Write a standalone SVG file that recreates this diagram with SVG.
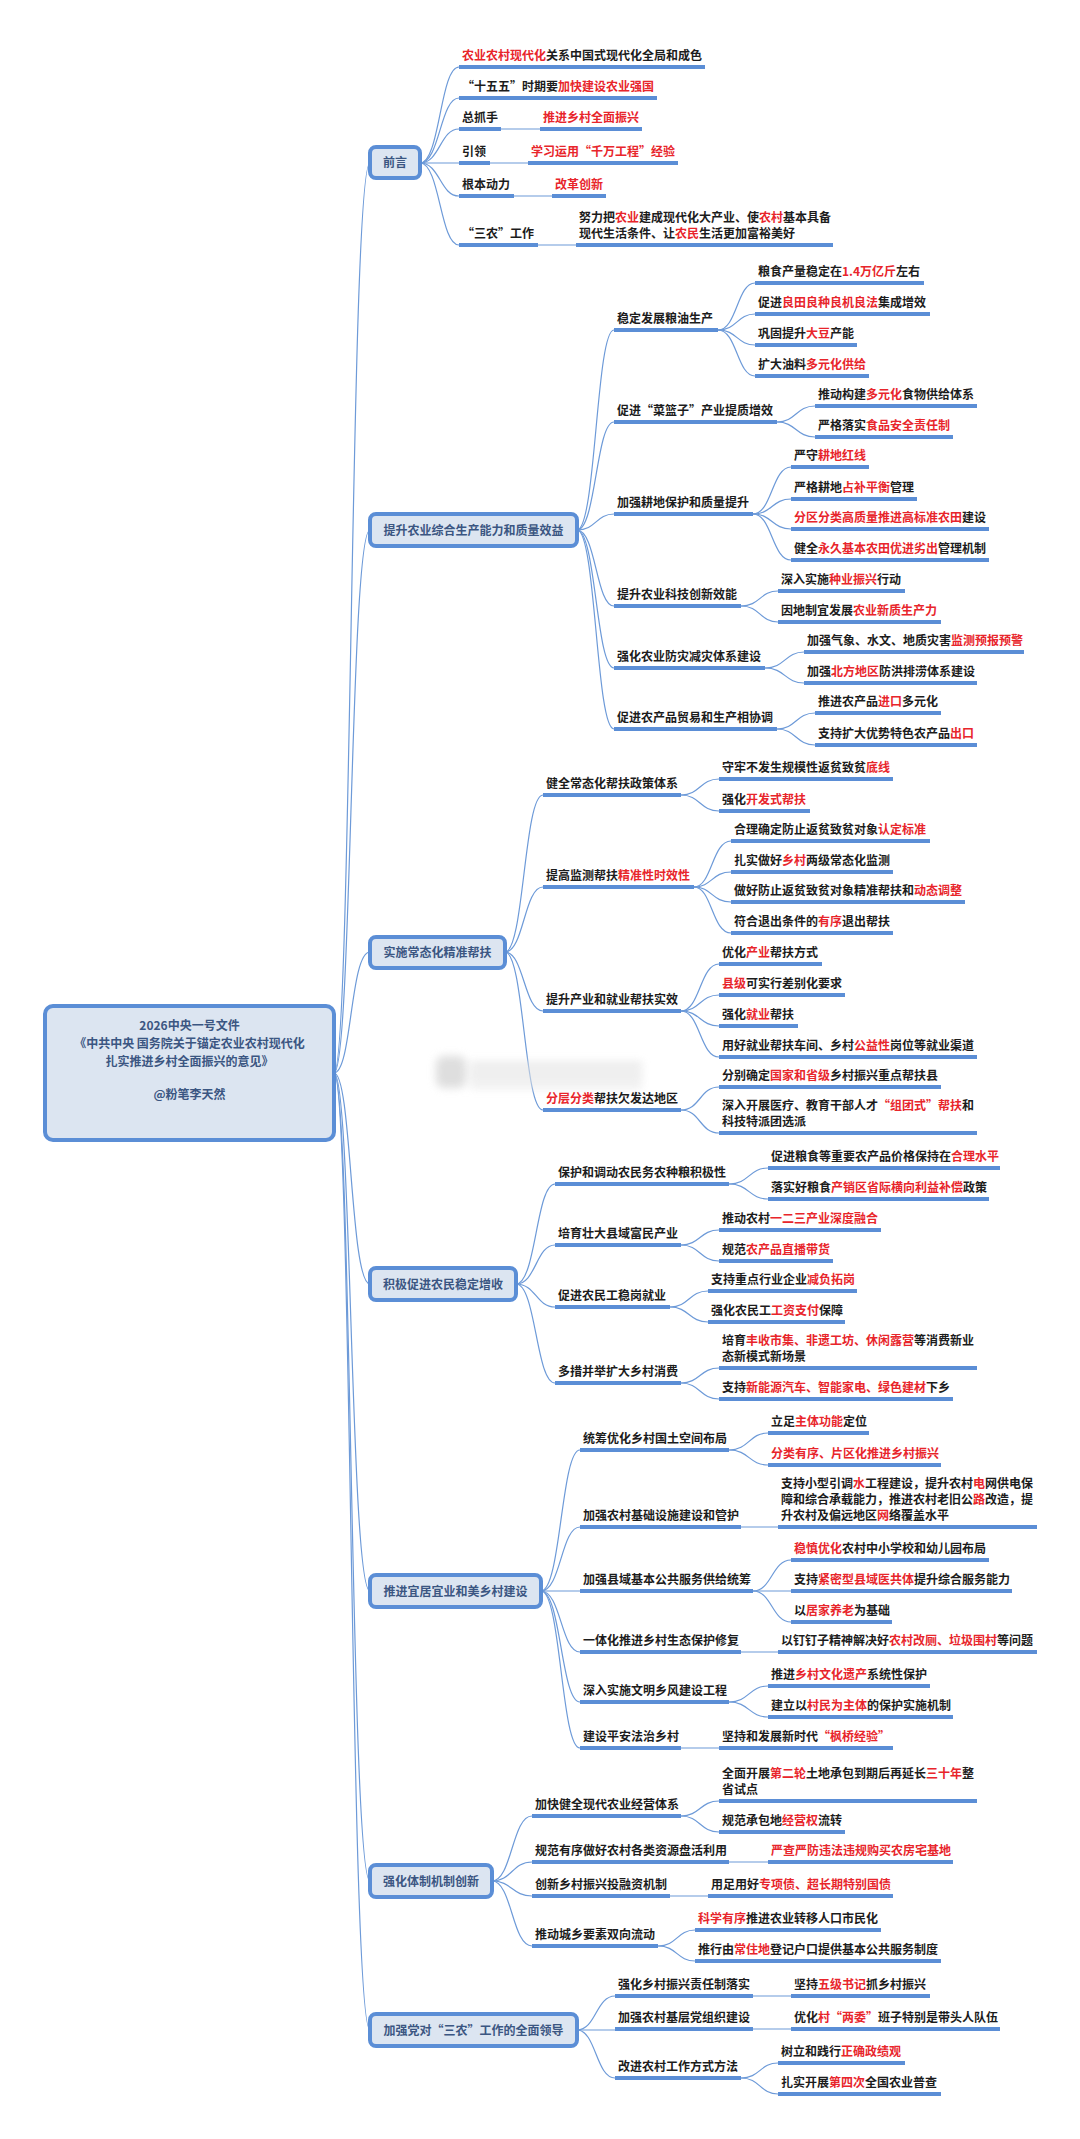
<svg xmlns="http://www.w3.org/2000/svg" width="1080" height="2139" viewBox="0 0 1080 2139">
<defs>
<style>
.t{font-family:"Noto Sans CJK SC","Microsoft YaHei",sans-serif;font-size:12px;font-weight:700;fill:#1c1c1c}
.r{fill:#e8252b}
.ul{stroke:#5b8ed6;stroke-width:4}
.c{fill:none;stroke:#6d9ad8;stroke-width:1.2}
.box{fill:#dce5f1;stroke:#5b8ed6;stroke-width:4}
.bt{font-family:"Noto Sans CJK SC","Microsoft YaHei",sans-serif;font-size:12px;font-weight:700;fill:#3b5682;text-anchor:middle}
</style>
<filter id="blur" x="-20%" y="-50%" width="140%" height="200%"><feGaussianBlur stdDeviation="4"/></filter>
</defs>
<rect width="1080" height="2139" fill="#ffffff"/>

<g id="connectors">
<path class="c" d="M334 1073 C352 1073 350 163 370 163"/>
<path class="c" d="M334 1073 C352 1073 350 530 370 530"/>
<path class="c" d="M334 1073 C352 1073 350 952 370 952"/>
<path class="c" d="M334 1073 C352 1073 350 1284 370 1284"/>
<path class="c" d="M334 1073 C352 1073 350 1591 370 1591"/>
<path class="c" d="M334 1073 C352 1073 350 1881 370 1881"/>
<path class="c" d="M334 1073 C352 1073 350 2030 370 2030"/>
<!-- 前言 -->
<path class="c" d="M420 163 C440 163 440 67 459 67"/>
<path class="c" d="M420 163 C440 163 440 98 459 98"/>
<path class="c" d="M420 163 C440 163 440 129 459 129"/>
<path class="c" d="M420 163 L459 163"/>
<path class="c" d="M420 163 C440 163 440 196 459 196"/>
<path class="c" d="M420 163 C440 163 440 245 459 245"/>
<path class="c" d="M501 129 L540 129"/>
<path class="c" d="M490 163 L528 163"/>
<path class="c" d="M514 196 L552 196"/>
<path class="c" d="M538 245 L576 245"/>
<!-- 提升 -->
<path class="c" d="M577 530 C596 530 596 330 614 330"/>
<path class="c" d="M577 530 C596 530 596 422 614 422"/>
<path class="c" d="M577 530 C596 530 596 514 614 514"/>
<path class="c" d="M577 530 C596 530 596 606 614 606"/>
<path class="c" d="M577 530 C596 530 596 668 614 668"/>
<path class="c" d="M577 530 C596 530 596 729 614 729"/>
<path class="c" d="M718 330 C737 330 737 283 755 283"/>
<path class="c" d="M718 330 C737 330 737 314 755 314"/>
<path class="c" d="M718 330 C737 330 737 345 755 345"/>
<path class="c" d="M718 330 C737 330 737 376 755 376"/>
<path class="c" d="M777 422 C796 422 796 406 815 406"/>
<path class="c" d="M777 422 C796 422 796 437 815 437"/>
<path class="c" d="M753 514 C772 514 772 467 791 467"/>
<path class="c" d="M753 514 C772 514 772 499 791 499"/>
<path class="c" d="M753 514 C772 514 772 529 791 529"/>
<path class="c" d="M753 514 C772 514 772 560 791 560"/>
<path class="c" d="M741 606 C760 606 760 591 778 591"/>
<path class="c" d="M741 606 C760 606 760 622 778 622"/>
<path class="c" d="M765 668 C785 668 785 652 804 652"/>
<path class="c" d="M765 668 C785 668 785 683 804 683"/>
<path class="c" d="M777 729 C796 729 796 713 815 713"/>
<path class="c" d="M777 729 C796 729 796 745 815 745"/>
<!-- 实施 -->
<path class="c" d="M505 952 C524 952 524 795 543 795"/>
<path class="c" d="M505 952 C524 952 524 887 543 887"/>
<path class="c" d="M505 952 C524 952 524 1011 543 1011"/>
<path class="c" d="M505 952 C524 952 524 1110 543 1110"/>
<path class="c" d="M681 795 C700 795 700 779 719 779"/>
<path class="c" d="M681 795 C700 795 700 811 719 811"/>
<path class="c" d="M694 887 C712 887 712 841 731 841"/>
<path class="c" d="M694 887 C712 887 712 872 731 872"/>
<path class="c" d="M694 887 C712 887 712 902 731 902"/>
<path class="c" d="M694 887 C712 887 712 933 731 933"/>
<path class="c" d="M681 1011 C700 1011 700 964 719 964"/>
<path class="c" d="M681 1011 C700 1011 700 995 719 995"/>
<path class="c" d="M681 1011 C700 1011 700 1026 719 1026"/>
<path class="c" d="M681 1011 C700 1011 700 1057 719 1057"/>
<path class="c" d="M681 1110 C700 1110 700 1087 719 1087"/>
<path class="c" d="M681 1110 C700 1110 700 1133 719 1133"/>
<!-- 积极 -->
<path class="c" d="M516 1284 C536 1284 536 1184 555 1184"/>
<path class="c" d="M516 1284 C536 1284 536 1245 555 1245"/>
<path class="c" d="M516 1284 C536 1284 536 1307 555 1307"/>
<path class="c" d="M516 1284 C536 1284 536 1383 555 1383"/>
<path class="c" d="M729 1184 C749 1184 749 1168 768 1168"/>
<path class="c" d="M729 1184 C749 1184 749 1199 768 1199"/>
<path class="c" d="M681 1245 C700 1245 700 1230 719 1230"/>
<path class="c" d="M681 1245 C700 1245 700 1261 719 1261"/>
<path class="c" d="M670 1307 C689 1307 689 1291 708 1291"/>
<path class="c" d="M670 1307 C689 1307 689 1322 708 1322"/>
<path class="c" d="M681 1383 C700 1383 700 1368 719 1368"/>
<path class="c" d="M681 1383 C700 1383 700 1399 719 1399"/>
<!-- 推进 -->
<path class="c" d="M541 1591 C561 1591 561 1450 580 1450"/>
<path class="c" d="M541 1591 C561 1591 561 1527 580 1527"/>
<path class="c" d="M541 1591 L580 1591"/>
<path class="c" d="M541 1591 C561 1591 561 1652 580 1652"/>
<path class="c" d="M541 1591 C561 1591 561 1702 580 1702"/>
<path class="c" d="M541 1591 C561 1591 561 1748 580 1748"/>
<path class="c" d="M729 1450 C749 1450 749 1433 768 1433"/>
<path class="c" d="M729 1450 C749 1450 749 1465 768 1465"/>
<path class="c" d="M741 1527 L778 1527"/>
<path class="c" d="M753 1591 C772 1591 772 1560 791 1560"/>
<path class="c" d="M753 1591 L791 1591"/>
<path class="c" d="M753 1591 C772 1591 772 1622 791 1622"/>
<path class="c" d="M741 1652 L778 1652"/>
<path class="c" d="M729 1702 C749 1702 749 1686 768 1686"/>
<path class="c" d="M729 1702 C749 1702 749 1717 768 1717"/>
<path class="c" d="M681 1748 L719 1748"/>
<!-- 强化 -->
<path class="c" d="M492 1881 C512 1881 512 1816 532 1816"/>
<path class="c" d="M492 1881 C512 1881 512 1862 532 1862"/>
<path class="c" d="M492 1881 C512 1881 512 1896 532 1896"/>
<path class="c" d="M492 1881 C512 1881 512 1946 532 1946"/>
<path class="c" d="M681 1816 C700 1816 700 1801 719 1801"/>
<path class="c" d="M681 1816 C700 1816 700 1832 719 1832"/>
<path class="c" d="M729 1862 L768 1862"/>
<path class="c" d="M670 1896 L708 1896"/>
<path class="c" d="M658 1946 C677 1946 677 1930 695 1930"/>
<path class="c" d="M658 1946 C677 1946 677 1961 695 1961"/>
<!-- 加强党 -->
<path class="c" d="M577 2030 C596 2030 596 1996 615 1996"/>
<path class="c" d="M577 2030 L615 2030"/>
<path class="c" d="M577 2030 C596 2030 596 2078 615 2078"/>
<path class="c" d="M753 1996 L791 1996"/>
<path class="c" d="M753 2029 L791 2029"/>
<path class="c" d="M741 2078 C760 2078 760 2063 778 2063"/>
<path class="c" d="M741 2078 C760 2078 760 2094 778 2094"/>
</g>

<g id="watermark" filter="url(#blur)" opacity="0.8">
<rect x="436" y="1056" width="30" height="32" rx="8" fill="#d6d6d6"/>
<rect x="470" y="1062" width="172" height="7" fill="#e2e2e2"/>
<rect x="470" y="1072" width="172" height="7" fill="#e2e2e2"/>
<rect x="470" y="1082" width="172" height="6" fill="#e6e6e6"/>
</g>

<g id="root">
<rect class="box" x="45" y="1006" width="289" height="134" rx="8"/>
<text class="bt" x="189.5" y="1029.5">2026中央一号文件</text>
<text class="bt" x="189.5" y="1047.5">《中共中央 国务院关于锚定农业农村现代化</text>
<text class="bt" x="189.5" y="1065.5">扎实推进乡村全面振兴的意见》</text>
<text class="bt" x="189.5" y="1098.5">@粉笔李天然</text>
</g>

<!-- 前言 -->
<g id="n-qianyan"><rect class="box" x="370" y="147" width="50" height="31" rx="6"/><text class="bt" x="395" y="167">前言</text></g>
<g id="n-p1"><line class="ul" x1="459" y1="67" x2="705" y2="67"/><text class="t" x="462" y="60"><tspan class="r">农业农村现代化</tspan>关系中国式现代化全局和成色</text></g>
<g id="n-p2"><line class="ul" x1="459" y1="98" x2="657" y2="98"/><text class="t" x="462" y="91">“十五五”时期要<tspan class="r">加快建设农业强国</tspan></text></g>
<g id="n-p3"><line class="ul" x1="459" y1="129" x2="501" y2="129"/><text class="t" x="462" y="122">总抓手</text></g>
<g id="n-p3a"><line class="ul" x1="540" y1="129" x2="642" y2="129"/><text class="t" x="543" y="122"><tspan class="r">推进乡村全面振兴</tspan></text></g>
<g id="n-p4"><line class="ul" x1="459" y1="163" x2="490" y2="163"/><text class="t" x="462" y="156">引领</text></g>
<g id="n-p4a"><line class="ul" x1="528" y1="163" x2="678" y2="163"/><text class="t" x="531" y="156"><tspan class="r">学习运用“千万工程”经验</tspan></text></g>
<g id="n-p5"><line class="ul" x1="459" y1="196" x2="514" y2="196"/><text class="t" x="462" y="189">根本动力</text></g>
<g id="n-p5a"><line class="ul" x1="552" y1="196" x2="606" y2="196"/><text class="t" x="555" y="189"><tspan class="r">改革创新</tspan></text></g>
<g id="n-p6"><line class="ul" x1="459" y1="245" x2="538" y2="245"/><text class="t" x="462" y="238">“三农”工作</text></g>
<g id="n-p6a"><line class="ul" x1="576" y1="245" x2="833" y2="245"/><text class="t" x="579" y="222">努力把<tspan class="r">农业</tspan>建成现代化大产业、使<tspan class="r">农村</tspan>基本具备</text><text class="t" x="579" y="238">现代生活条件、让<tspan class="r">农民</tspan>生活更加富裕美好</text></g>

<!-- 提升农业综合生产能力和质量效益 -->
<g id="n-a"><rect class="box" x="370" y="514" width="207" height="32" rx="6"/><text class="bt" x="473.5" y="534.5">提升农业综合生产能力和质量效益</text></g>
<g id="n-a1"><line class="ul" x1="614" y1="330" x2="718" y2="330"/><text class="t" x="617" y="323">稳定发展粮油生产</text></g>
<g id="n-a1a"><line class="ul" x1="755" y1="283" x2="924" y2="283"/><text class="t" x="758" y="276">粮食产量稳定在<tspan class="r">1.4万亿斤</tspan>左右</text></g>
<g id="n-a1b"><line class="ul" x1="755" y1="314" x2="930" y2="314"/><text class="t" x="758" y="307">促进<tspan class="r">良田良种良机良法</tspan>集成增效</text></g>
<g id="n-a1c"><line class="ul" x1="755" y1="345" x2="857" y2="345"/><text class="t" x="758" y="338">巩固提升<tspan class="r">大豆</tspan>产能</text></g>
<g id="n-a1d"><line class="ul" x1="755" y1="376" x2="869" y2="376"/><text class="t" x="758" y="369">扩大油料<tspan class="r">多元化供给</tspan></text></g>
<g id="n-a2"><line class="ul" x1="614" y1="422" x2="777" y2="422"/><text class="t" x="617" y="415">促进“菜篮子”产业提质增效</text></g>
<g id="n-a2a"><line class="ul" x1="815" y1="406" x2="977" y2="406"/><text class="t" x="818" y="399">推动构建<tspan class="r">多元化</tspan>食物供给体系</text></g>
<g id="n-a2b"><line class="ul" x1="815" y1="437" x2="953" y2="437"/><text class="t" x="818" y="430">严格落实<tspan class="r">食品安全责任制</tspan></text></g>
<g id="n-a3"><line class="ul" x1="614" y1="514" x2="753" y2="514"/><text class="t" x="617" y="507">加强耕地保护和质量提升</text></g>
<g id="n-a3a"><line class="ul" x1="791" y1="467" x2="869" y2="467"/><text class="t" x="794" y="460">严守<tspan class="r">耕地红线</tspan></text></g>
<g id="n-a3b"><line class="ul" x1="791" y1="499" x2="917" y2="499"/><text class="t" x="794" y="492">严格耕地<tspan class="r">占补平衡</tspan>管理</text></g>
<g id="n-a3c"><line class="ul" x1="791" y1="529" x2="989" y2="529"/><text class="t" x="794" y="522"><tspan class="r">分区分类高质量推进高标准农田</tspan>建设</text></g>
<g id="n-a3d"><line class="ul" x1="791" y1="560" x2="989" y2="560"/><text class="t" x="794" y="553">健全<tspan class="r">永久基本农田优进劣出</tspan>管理机制</text></g>
<g id="n-a4"><line class="ul" x1="614" y1="606" x2="741" y2="606"/><text class="t" x="617" y="599">提升农业科技创新效能</text></g>
<g id="n-a4a"><line class="ul" x1="778" y1="591" x2="905" y2="591"/><text class="t" x="781" y="584">深入实施<tspan class="r">种业振兴</tspan>行动</text></g>
<g id="n-a4b"><line class="ul" x1="778" y1="622" x2="941" y2="622"/><text class="t" x="781" y="615">因地制宜发展<tspan class="r">农业新质生产力</tspan></text></g>
<g id="n-a5"><line class="ul" x1="614" y1="668" x2="765" y2="668"/><text class="t" x="617" y="661">强化农业防灾减灾体系建设</text></g>
<g id="n-a5a"><line class="ul" x1="804" y1="652" x2="1024" y2="652"/><text class="t" x="807" y="645">加强气象、水文、地质灾害<tspan class="r">监测预报预警</tspan></text></g>
<g id="n-a5b"><line class="ul" x1="804" y1="683" x2="977" y2="683"/><text class="t" x="807" y="676">加强<tspan class="r">北方地区</tspan>防洪排涝体系建设</text></g>
<g id="n-a6"><line class="ul" x1="614" y1="729" x2="777" y2="729"/><text class="t" x="617" y="722">促进农产品贸易和生产相协调</text></g>
<g id="n-a6a"><line class="ul" x1="815" y1="713" x2="941" y2="713"/><text class="t" x="818" y="706">推进农产品<tspan class="r">进口</tspan>多元化</text></g>
<g id="n-a6b"><line class="ul" x1="815" y1="745" x2="977" y2="745"/><text class="t" x="818" y="738">支持扩大优势特色农产品<tspan class="r">出口</tspan></text></g>

<!-- 实施常态化精准帮扶 -->
<g id="n-b"><rect class="box" x="370" y="937" width="135" height="31" rx="6"/><text class="bt" x="437.5" y="957">实施常态化精准帮扶</text></g>
<g id="n-b1"><line class="ul" x1="543" y1="795" x2="681" y2="795"/><text class="t" x="546" y="788">健全常态化帮扶政策体系</text></g>
<g id="n-b1a"><line class="ul" x1="719" y1="779" x2="893" y2="779"/><text class="t" x="722" y="772">守牢不发生规模性返贫致贫<tspan class="r">底线</tspan></text></g>
<g id="n-b1b"><line class="ul" x1="719" y1="811" x2="810" y2="811"/><text class="t" x="722" y="804">强化<tspan class="r">开发式帮扶</tspan></text></g>
<g id="n-b2"><line class="ul" x1="543" y1="887" x2="694" y2="887"/><text class="t" x="546" y="880">提高监测帮扶<tspan class="r">精准性时效性</tspan></text></g>
<g id="n-b2a"><line class="ul" x1="731" y1="841" x2="930" y2="841"/><text class="t" x="734" y="834">合理确定防止返贫致贫对象<tspan class="r">认定标准</tspan></text></g>
<g id="n-b2b"><line class="ul" x1="731" y1="872" x2="893" y2="872"/><text class="t" x="734" y="865">扎实做好<tspan class="r">乡村</tspan>两级常态化监测</text></g>
<g id="n-b2c"><line class="ul" x1="731" y1="902" x2="965" y2="902"/><text class="t" x="734" y="895">做好防止返贫致贫对象精准帮扶和<tspan class="r">动态调整</tspan></text></g>
<g id="n-b2d"><line class="ul" x1="731" y1="933" x2="893" y2="933"/><text class="t" x="734" y="926">符合退出条件的<tspan class="r">有序</tspan>退出帮扶</text></g>
<g id="n-b3"><line class="ul" x1="543" y1="1011" x2="681" y2="1011"/><text class="t" x="546" y="1004">提升产业和就业帮扶实效</text></g>
<g id="n-b3a"><line class="ul" x1="719" y1="964" x2="822" y2="964"/><text class="t" x="722" y="957">优化<tspan class="r">产业</tspan>帮扶方式</text></g>
<g id="n-b3b"><line class="ul" x1="719" y1="995" x2="845" y2="995"/><text class="t" x="722" y="988"><tspan class="r">县级</tspan>可实行差别化要求</text></g>
<g id="n-b3c"><line class="ul" x1="719" y1="1026" x2="798" y2="1026"/><text class="t" x="722" y="1019">强化<tspan class="r">就业</tspan>帮扶</text></g>
<g id="n-b3d"><line class="ul" x1="719" y1="1057" x2="977" y2="1057"/><text class="t" x="722" y="1050">用好就业帮扶车间、乡村<tspan class="r">公益性</tspan>岗位等就业渠道</text></g>
<g id="n-b4"><line class="ul" x1="543" y1="1110" x2="681" y2="1110"/><text class="t" x="546" y="1103"><tspan class="r">分层分类</tspan>帮扶欠发达地区</text></g>
<g id="n-b4a"><line class="ul" x1="719" y1="1087" x2="941" y2="1087"/><text class="t" x="722" y="1080">分别确定<tspan class="r">国家和省级</tspan>乡村振兴重点帮扶县</text></g>
<g id="n-b4b"><line class="ul" x1="719" y1="1133" x2="977" y2="1133"/><text class="t" x="722" y="1110">深入开展医疗、教育干部人才<tspan class="r">“组团式”帮扶</tspan>和</text><text class="t" x="722" y="1126">科技特派团选派</text></g>

<!-- 积极促进农民稳定增收 -->
<g id="n-c"><rect class="box" x="370" y="1268" width="146" height="32" rx="6"/><text class="bt" x="443" y="1288.5">积极促进农民稳定增收</text></g>
<g id="n-c1"><line class="ul" x1="555" y1="1184" x2="729" y2="1184"/><text class="t" x="558" y="1177">保护和调动农民务农种粮积极性</text></g>
<g id="n-c1a"><line class="ul" x1="768" y1="1168" x2="1000" y2="1168"/><text class="t" x="771" y="1161">促进粮食等重要农产品价格保持在<tspan class="r">合理水平</tspan></text></g>
<g id="n-c1b"><line class="ul" x1="768" y1="1199" x2="989" y2="1199"/><text class="t" x="771" y="1192">落实好粮食<tspan class="r">产销区省际横向利益补偿</tspan>政策</text></g>
<g id="n-c2"><line class="ul" x1="555" y1="1245" x2="681" y2="1245"/><text class="t" x="558" y="1238">培育壮大县域富民产业</text></g>
<g id="n-c2a"><line class="ul" x1="719" y1="1230" x2="881" y2="1230"/><text class="t" x="722" y="1223">推动农村<tspan class="r">一二三产业深度融合</tspan></text></g>
<g id="n-c2b"><line class="ul" x1="719" y1="1261" x2="833" y2="1261"/><text class="t" x="722" y="1254">规范<tspan class="r">农产品直播带货</tspan></text></g>
<g id="n-c3"><line class="ul" x1="555" y1="1307" x2="670" y2="1307"/><text class="t" x="558" y="1300">促进农民工稳岗就业</text></g>
<g id="n-c3a"><line class="ul" x1="708" y1="1291" x2="857" y2="1291"/><text class="t" x="711" y="1284">支持重点行业企业<tspan class="r">减负拓岗</tspan></text></g>
<g id="n-c3b"><line class="ul" x1="708" y1="1322" x2="845" y2="1322"/><text class="t" x="711" y="1315">强化农民工<tspan class="r">工资支付</tspan>保障</text></g>
<g id="n-c4"><line class="ul" x1="555" y1="1383" x2="681" y2="1383"/><text class="t" x="558" y="1376">多措并举扩大乡村消费</text></g>
<g id="n-c4a"><line class="ul" x1="719" y1="1368" x2="977" y2="1368"/><text class="t" x="722" y="1345">培育<tspan class="r">丰收市集、非遗工坊、休闲露营</tspan>等消费新业</text><text class="t" x="722" y="1361">态新模式新场景</text></g>
<g id="n-c4b"><line class="ul" x1="719" y1="1399" x2="953" y2="1399"/><text class="t" x="722" y="1392">支持<tspan class="r">新能源汽车、智能家电、绿色建材</tspan>下乡</text></g>

<!-- 推进宜居宜业和美乡村建设 -->
<g id="n-d"><rect class="box" x="370" y="1575" width="171" height="32" rx="6"/><text class="bt" x="455.5" y="1595.5">推进宜居宜业和美乡村建设</text></g>
<g id="n-d1"><line class="ul" x1="580" y1="1450" x2="729" y2="1450"/><text class="t" x="583" y="1443">统筹优化乡村国土空间布局</text></g>
<g id="n-d1a"><line class="ul" x1="768" y1="1433" x2="869" y2="1433"/><text class="t" x="771" y="1426">立足<tspan class="r">主体功能</tspan>定位</text></g>
<g id="n-d1b"><line class="ul" x1="768" y1="1465" x2="941" y2="1465"/><text class="t" x="771" y="1458"><tspan class="r">分类有序、片区化推进乡村振兴</tspan></text></g>
<g id="n-d2"><line class="ul" x1="580" y1="1527" x2="741" y2="1527"/><text class="t" x="583" y="1520">加强农村基础设施建设和管护</text></g>
<g id="n-d2a"><line class="ul" x1="778" y1="1527" x2="1037" y2="1527"/><text class="t" x="781" y="1488">支持小型引调<tspan class="r">水</tspan>工程建设，提升农村<tspan class="r">电</tspan>网供电保</text><text class="t" x="781" y="1504">障和综合承载能力，推进农村老旧公<tspan class="r">路</tspan>改造，提</text><text class="t" x="781" y="1520">升农村及偏远地区<tspan class="r">网</tspan>络覆盖水平</text></g>
<g id="n-d3"><line class="ul" x1="580" y1="1591" x2="753" y2="1591"/><text class="t" x="583" y="1584">加强县域基本公共服务供给统筹</text></g>
<g id="n-d3a"><line class="ul" x1="791" y1="1560" x2="989" y2="1560"/><text class="t" x="794" y="1553"><tspan class="r">稳慎优化</tspan>农村中小学校和幼儿园布局</text></g>
<g id="n-d3b"><line class="ul" x1="791" y1="1591" x2="1012" y2="1591"/><text class="t" x="794" y="1584">支持<tspan class="r">紧密型县域医共体</tspan>提升综合服务能力</text></g>
<g id="n-d3c"><line class="ul" x1="791" y1="1622" x2="892" y2="1622"/><text class="t" x="794" y="1615">以<tspan class="r">居家养老</tspan>为基础</text></g>
<g id="n-d4"><line class="ul" x1="580" y1="1652" x2="741" y2="1652"/><text class="t" x="583" y="1645">一体化推进乡村生态保护修复</text></g>
<g id="n-d4a"><line class="ul" x1="778" y1="1652" x2="1037" y2="1652"/><text class="t" x="781" y="1645">以钉钉子精神解决好<tspan class="r">农村改厕、垃圾围村</tspan>等问题</text></g>
<g id="n-d5"><line class="ul" x1="580" y1="1702" x2="729" y2="1702"/><text class="t" x="583" y="1695">深入实施文明乡风建设工程</text></g>
<g id="n-d5a"><line class="ul" x1="768" y1="1686" x2="930" y2="1686"/><text class="t" x="771" y="1679">推进<tspan class="r">乡村文化遗产</tspan>系统性保护</text></g>
<g id="n-d5b"><line class="ul" x1="768" y1="1717" x2="953" y2="1717"/><text class="t" x="771" y="1710">建立以<tspan class="r">村民为主体</tspan>的保护实施机制</text></g>
<g id="n-d6"><line class="ul" x1="580" y1="1748" x2="681" y2="1748"/><text class="t" x="583" y="1741">建设平安法治乡村</text></g>
<g id="n-d6a"><line class="ul" x1="719" y1="1748" x2="893" y2="1748"/><text class="t" x="722" y="1741">坚持和发展新时代<tspan class="r">“枫桥经验”</tspan></text></g>

<!-- 强化体制机制创新 -->
<g id="n-e"><rect class="box" x="370" y="1865" width="122" height="32" rx="6"/><text class="bt" x="431" y="1885.5">强化体制机制创新</text></g>
<g id="n-e1"><line class="ul" x1="532" y1="1816" x2="681" y2="1816"/><text class="t" x="535" y="1809">加快健全现代农业经营体系</text></g>
<g id="n-e1a"><line class="ul" x1="719" y1="1801" x2="977" y2="1801"/><text class="t" x="722" y="1778">全面开展<tspan class="r">第二轮</tspan>土地承包到期后再延长<tspan class="r">三十年</tspan>整</text><text class="t" x="722" y="1794">省试点</text></g>
<g id="n-e1b"><line class="ul" x1="719" y1="1832" x2="845" y2="1832"/><text class="t" x="722" y="1825">规范承包地<tspan class="r">经营权</tspan>流转</text></g>
<g id="n-e2"><line class="ul" x1="532" y1="1862" x2="729" y2="1862"/><text class="t" x="535" y="1855">规范有序做好农村各类资源盘活利用</text></g>
<g id="n-e2a"><line class="ul" x1="768" y1="1862" x2="953" y2="1862"/><text class="t" x="771" y="1855"><tspan class="r">严查严防违法违规购买农房宅基地</tspan></text></g>
<g id="n-e3"><line class="ul" x1="532" y1="1896" x2="670" y2="1896"/><text class="t" x="535" y="1889">创新乡村振兴投融资机制</text></g>
<g id="n-e3a"><line class="ul" x1="708" y1="1896" x2="893" y2="1896"/><text class="t" x="711" y="1889">用足用好<tspan class="r">专项债、超长期特别国债</tspan></text></g>
<g id="n-e4"><line class="ul" x1="532" y1="1946" x2="658" y2="1946"/><text class="t" x="535" y="1939">推动城乡要素双向流动</text></g>
<g id="n-e4a"><line class="ul" x1="695" y1="1930" x2="881" y2="1930"/><text class="t" x="698" y="1923"><tspan class="r">科学有序</tspan>推进农业转移人口市民化</text></g>
<g id="n-e4b"><line class="ul" x1="695" y1="1961" x2="941" y2="1961"/><text class="t" x="698" y="1954">推行由<tspan class="r">常住地</tspan>登记户口提供基本公共服务制度</text></g>

<!-- 加强党对“三农”工作的全面领导 -->
<g id="n-f"><rect class="box" x="370" y="2014" width="207" height="32" rx="6"/><text class="bt" x="473.5" y="2034.5">加强党对“三农”工作的全面领导</text></g>
<g id="n-f1"><line class="ul" x1="615" y1="1996" x2="753" y2="1996"/><text class="t" x="618" y="1989">强化乡村振兴责任制落实</text></g>
<g id="n-f1a"><line class="ul" x1="791" y1="1996" x2="930" y2="1996"/><text class="t" x="794" y="1989">坚持<tspan class="r">五级书记</tspan>抓乡村振兴</text></g>
<g id="n-f2"><line class="ul" x1="615" y1="2029" x2="753" y2="2029"/><text class="t" x="618" y="2022">加强农村基层党组织建设</text></g>
<g id="n-f2a"><line class="ul" x1="791" y1="2029" x2="1000" y2="2029"/><text class="t" x="794" y="2022">优化<tspan class="r">村“两委”</tspan>班子特别是带头人队伍</text></g>
<g id="n-f3"><line class="ul" x1="615" y1="2078" x2="741" y2="2078"/><text class="t" x="618" y="2071">改进农村工作方式方法</text></g>
<g id="n-f3a"><line class="ul" x1="778" y1="2063" x2="905" y2="2063"/><text class="t" x="781" y="2056">树立和践行<tspan class="r">正确政绩观</tspan></text></g>
<g id="n-f3b"><line class="ul" x1="778" y1="2094" x2="941" y2="2094"/><text class="t" x="781" y="2087">扎实开展<tspan class="r">第四次</tspan>全国农业普查</text></g>
</svg>
